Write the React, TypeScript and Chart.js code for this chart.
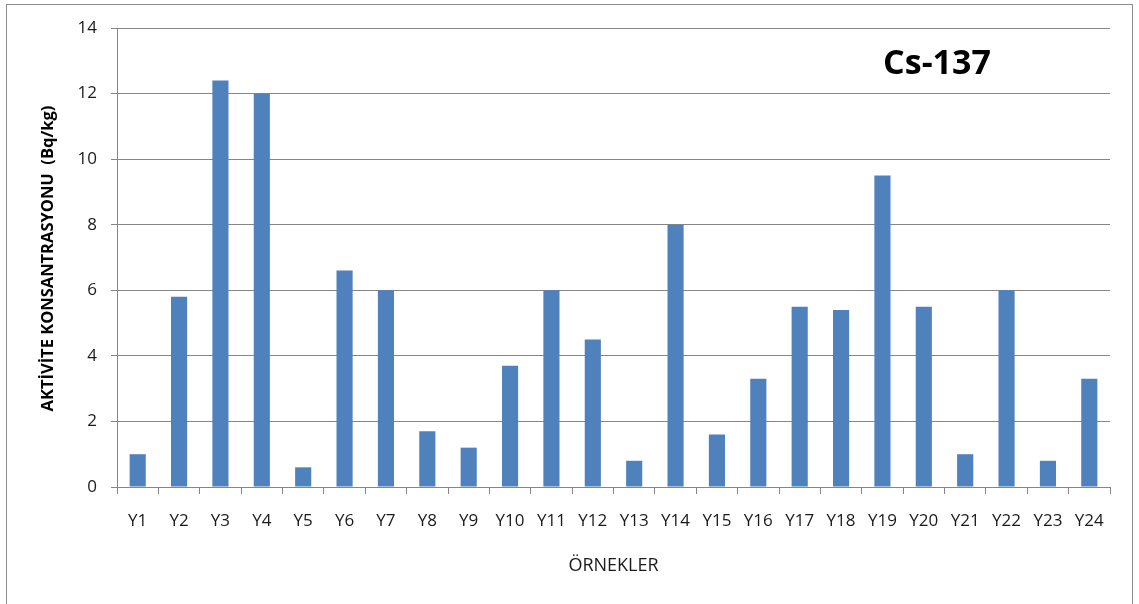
import React, { useEffect, useRef } from "react";
import { Chart, registerables } from "chart.js";

Chart.register(...registerables);

// Sample codes along the category axis
const samples = [
  "Y1", "Y2", "Y3", "Y4", "Y5", "Y6", "Y7", "Y8", "Y9", "Y10", "Y11", "Y12",
  "Y13", "Y14", "Y15", "Y16", "Y17", "Y18", "Y19", "Y20", "Y21", "Y22", "Y23", "Y24",
];

// Cs-137 activity concentration per sample (Bq/kg)
const cs137 = [
  1.0, 5.8, 12.4, 12.0, 0.6, 6.6, 6.0, 1.7, 1.2, 3.7, 6.0, 4.5,
  0.8, 8.0, 1.6, 3.3, 5.5, 5.4, 9.5, 5.5, 1.0, 6.0, 0.8, 3.3,
];

// Value axis range
const yMin = 0;
const yMax = 14;
const yStep = 2;

const chartTitle = "Cs-137";
const yTitle = "AKTİVİTE KONSANTRASYONU  (Bq/kg)";
const xTitle = "ÖRNEKLER";

const W = 1139;
const H = 604;
const FONT = "'Open Sans', 'DejaVu Sans', sans-serif";
const GRID = "#868686";
const TEXT = "#1a1a1a";

const decorPlugin = {
  id: "decor",
  beforeDraw(chart: any) {
    const ctx = chart.ctx;
    ctx.save();
    ctx.fillStyle = "#ffffff";
    ctx.fillRect(0, 0, chart.width, chart.height);
    ctx.restore();
  },
  afterDraw(chart: any) {
    const ctx = chart.ctx;
    const area = chart.chartArea;
    ctx.save();

    // outer frame
    ctx.strokeStyle = "#8c8c8c";
    ctx.lineWidth = 1;
    ctx.strokeRect(6.5, 4.5, 1126, 640);

    // chart title inside the plot
    ctx.fillStyle = "#000000";
    ctx.font = `bold 34px ${FONT}`;
    ctx.textAlign = "center";
    ctx.textBaseline = "middle";
    ctx.fillText(chartTitle, 937, 64);

    // x axis title
    ctx.font = `18px ${FONT}`;
    ctx.fillStyle = TEXT;
    ctx.fillText(xTitle, (area.left + area.right) / 2, 566);

    // y axis title
    ctx.translate(48, (area.top + area.bottom) / 2 + 1);
    ctx.rotate(-Math.PI / 2);
    ctx.font = `bold 16.5px ${FONT}`;
    ctx.fillStyle = "#000000";
    ctx.fillText(yTitle, 0, 0);

    ctx.restore();
  },
};

export default function App() {
  const ref = useRef<HTMLCanvasElement | null>(null);

  useEffect(() => {
    if (!ref.current) return;
    const chart = new Chart(ref.current, {
      type: "bar",
      data: {
        labels: samples,
        datasets: [
          {
            data: cs137,
            backgroundColor: "#4f81bd",
            borderWidth: 0,
            barPercentage: 0.39,
            categoryPercentage: 1,
          },
        ],
      },
      options: {
        responsive: false,
        animation: false,
        devicePixelRatio: 1,
        layout: { padding: { left: 0, top: 28, right: 29, bottom: 0 } },
        plugins: {
          legend: { display: false },
          tooltip: { enabled: false },
          title: { display: false },
        },
        scales: {
          x: {
            offset: true,
            grid: {
              offset: true,
              drawOnChartArea: false,
              drawTicks: true,
              tickLength: 7,
              color: GRID,
            },
            border: { color: GRID, width: 1 },
            ticks: {
              autoSkip: false,
              maxRotation: 0,
              minRotation: 0,
              padding: 17,
              color: TEXT,
              font: { family: FONT, size: 17 },
            },
            afterFit(scale: any) {
              scale.height = H - 487;
            },
          },
          y: {
            min: yMin,
            max: yMax,
            grid: {
              color: GRID,
              drawTicks: true,
              tickLength: 6,
            },
            border: { color: GRID, width: 1 },
            ticks: {
              stepSize: yStep,
              padding: 14,
              color: TEXT,
              font: { family: FONT, size: 17 },
            },
            afterFit(scale: any) {
              scale.width = 117;
            },
          },
        },
      },
      plugins: [decorPlugin],
    });
    return () => chart.destroy();
  }, []);

  return (
    <div style={{ position: "absolute", left: 0, top: 0, width: W, height: H }}>
      <canvas ref={ref} width={W} height={H} />
    </div>
  );
}
